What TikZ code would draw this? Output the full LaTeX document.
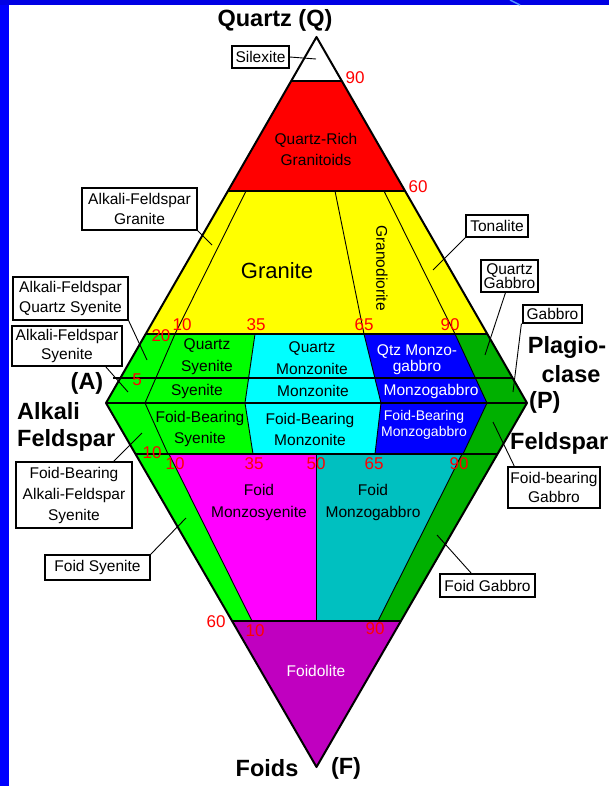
\documentclass[tikz,border=0pt]{standalone}
\usepackage{fontspec}
\setmainfont{Liberation Sans}
\usetikzlibrary{calc}
\definecolor{lgreen}{RGB}{0,255,0}
\definecolor{dgreen}{RGB}{0,176,0}
\definecolor{tealc}{RGB}{0,192,192}
\definecolor{purp}{RGB}{192,0,192}
\definecolor{cyanc}{RGB}{0,255,255}
\definecolor{magc}{RGB}{255,0,255}
\definecolor{yelc}{RGB}{255,255,0}
\definecolor{redc}{RGB}{255,0,0}
\definecolor{bluec}{RGB}{0,0,255}
\definecolor{slideblue}{RGB}{0,0,255}
\definecolor{topblue}{RGB}{0,0,228}
\definecolor{swoosh}{RGB}{80,150,255}
\begin{document}
\begin{tikzpicture}[x=1pt,y=-1pt,
  edge/.style={draw=black, line width=2pt, line join=round},
  hline/.style={draw=black, line width=1.6pt},
  divline/.style={draw=black, line width=0.9pt},
  leader/.style={draw=black, line width=0.9pt},
  lbl/.style={draw=black, line width=1.2pt, fill=white, align=center, inner sep=0pt, font=\fontsize{15.5}{19.5}\selectfont},
  intxt/.style={align=center, inner sep=0pt, font=\fontsize{15.5}{21}\selectfont},
  num/.style={text=redc, inner sep=0pt, font=\fontsize{17}{17}\selectfont},
  big/.style={inner sep=0pt, font=\fontsize{23.5}{26}\selectfont\bfseries}]
\useasboundingbox (0,0) rectangle (609,786);
% slide background
\fill[white] (0,0) rectangle (609,786);
\fill[slideblue] (0,0) rectangle (9,786);
\fill[topblue] (0,0) rectangle (609,5);
\draw[swoosh, line width=1.5pt] (510,0) -- (520,5);

% vertices
\coordinate (Q) at (316.5,37);
\coordinate (A) at (106,403);
\coordinate (P) at (527,403);
\coordinate (F) at (316.5,767);
% edge points on horizontal lines
\coordinate (l90) at (291.2,81);  \coordinate (r90) at (341.8,81);
\coordinate (l60) at (227.9,191); \coordinate (r60) at (405.1,191);
\coordinate (l20) at (145.7,334); \coordinate (r20) at (487.3,334);
\coordinate (l5)  at (120.4,378); \coordinate (r5)  at (512.6,378);
\coordinate (lf10) at (135.5,454); \coordinate (rf10) at (497.5,454);
\coordinate (lf60) at (232.1,621); \coordinate (rf60) at (400.9,621);
% divider points
\coordinate (y10a) at (246,191); \coordinate (y10b) at (175,334);
\coordinate (y65a) at (335,191); \coordinate (y65b) at (364,334);
\coordinate (y90a) at (384,191); \coordinate (y90b) at (455,334);
\coordinate (g10b) at (145,403);
\coordinate (g35a) at (255,334); \coordinate (g35b) at (245,403);
\coordinate (g65b) at (381,403);
\coordinate (g90b) at (487,403);
\coordinate (b10) at (168,454);
\coordinate (b35) at (253,454);
\coordinate (b65) at (375,454);
\coordinate (b90) at (463,454);
\coordinate (f10a) at (169,454); \coordinate (f10b) at (252,621);
\coordinate (f50a) at (316.5,454); \coordinate (f50b) at (316.5,621);
\coordinate (f90a) at (462,454); \coordinate (f90b) at (378,621);

% fills
\fill[white] (Q) -- (r90) -- (l90) -- cycle;
\fill[redc] (l90) -- (r90) -- (r60) -- (l60) -- cycle;
\fill[yelc] (l60) -- (r60) -- (r20) -- (l20) -- cycle;
\fill[lgreen] (l20) -- (g35a) -- (g35b) -- (A) -- cycle;
\fill[cyanc] (g35a) -- (y65b) -- (g65b) -- (g35b) -- cycle;
\fill[bluec] (y65b) -- (y90b) -- (g90b) -- (g65b) -- cycle;
\fill[dgreen] (y90b) -- (r20) -- (P) -- (g90b) -- cycle;
\fill[lgreen] (A) -- (g35b) -- (b35) -- (lf10) -- cycle;
\fill[cyanc] (g35b) -- (g65b) -- (b65) -- (b35) -- cycle;
\fill[bluec] (g65b) -- (g90b) -- (b90) -- (b65) -- cycle;
\fill[dgreen] (g90b) -- (P) -- (rf10) -- (b90) -- cycle;
\fill[lgreen] (lf10) -- (f10a) -- (f10b) -- (lf60) -- cycle;
\fill[magc] (f10a) -- (f50a) -- (f50b) -- (f10b) -- cycle;
\fill[tealc] (f50a) -- (f90a) -- (f90b) -- (f50b) -- cycle;
\fill[dgreen] (f90a) -- (rf10) -- (rf60) -- (f90b) -- cycle;
\fill[purp] (lf60) -- (rf60) -- (F) -- cycle;

% dividers
\draw[divline] (y10a) -- (y10b) -- (g10b) -- (b10);
\draw[divline] (f10a) -- (f10b);
\draw[divline] (y65a) -- (y65b) -- (g65b) -- (b65);
\draw[divline] (y90a) -- (y90b) -- (g90b) -- (b90);
\draw[divline] (g35a) -- (g35b) -- (b35);
\draw[divline] (f50a) -- (f50b);
\draw[divline] (f90a) -- (f90b);
% horizontal lines
\draw[hline] (l90) -- (r90);
\draw[hline] (l60) -- (r60);
\draw[hline] (l20) -- (r20);
\draw[hline] (113,378) -- (r5);
\draw[draw=black, line width=2.6pt] (A) -- (P);
\draw[hline] (lf10) -- (rf10);
\draw[hline] (lf60) -- (rf60);
% outline
\draw[edge] (Q) -- (P) -- (F) -- (A) -- cycle;

% interior labels
\node[intxt] (qrg) at (316,149) {Quartz-Rich\\Granitoids};
\node[intxt, font=\fontsize{22}{24}\selectfont] (gran) at (277,271) {Granite};
\node[intxt, rotate=-90] (grd) at (382,268) {Granodiorite};
\node[intxt, font=\fontsize{15.5}{22}\selectfont] (qsy) at (207,357) {Quartz\\Syenite};
\node[intxt] (sy) at (197,391) {Syenite};
\node[intxt] (fbsy) at (200,429) {Foid-Bearing\\Syenite};
\node[intxt, font=\fontsize{15.5}{22}\selectfont] (qmz) at (312,358) {Quartz\\Monzonite};
\node[intxt] (mz) at (313,391) {Monzonite};
\node[intxt] (fbmz) at (310,429) {Foid-Bearing\\Monzonite};
\node[intxt, text=white, font=\fontsize{15.5}{16}\selectfont] (qtzmg) at (417,360) {Qtz Monzo-\\gabbro};
\node[intxt, text=white] (mg) at (431,391) {Monzogabbro};
\node[intxt, text=white, font=\fontsize{14}{16}\selectfont] (fbmg) at (424,425) {Foid-Bearing\\Monzogabbro};
\node[intxt, font=\fontsize{15.5}{22}\selectfont] (fmzs) at (259,502) {Foid\\Monzosyenite};
\node[intxt, font=\fontsize{15.5}{22}\selectfont] (fmg) at (373,502) {Foid\\Monzogabbro};
\node[intxt, text=white] (fdl) at (316,671) {Foidolite};

% numbers
\node[num] (n90t) at (355,78) {90};
\node[num] (n60t) at (418,187) {60};
\node[num] (n20) at (161,336) {20};
\node[num] (n10u) at (182,325) {10};
\node[num] (n35u) at (256,325) {35};
\node[num] (n65u) at (364,325) {65};
\node[num] (n90u) at (450,325) {90};
\node[num] (n5) at (137,380) {5};
\node[num] (n10l) at (152,453) {10};
\node[num] (n10f) at (175,464) {10};
\node[num] (n35f) at (254,464) {35};
\node[num] (n50f) at (316,464) {50};
\node[num] (n65f) at (374,464) {65};
\node[num] (n90f) at (459,464) {90};
\node[num] (n60b) at (216,622) {60};
\node[num] (n10b) at (255,631) {10};
\node[num] (n90b) at (375,629) {90};

% corner labels
\node[big] (qlab) at (275,20) {Quartz (Q)};
\node[big] (alab) at (87,383) {(A)};
\node[big, anchor=west] (alk) at (17,411) {Alkali};
\node[big, anchor=west] (fel1) at (17,440) {Feldspar};
\node[big] (plag) at (567,347) {Plagio-};
\node[big] (clase) at (571,374) {clase};
\node[big, anchor=west] (plab) at (529,402) {(P)};
\node[big, anchor=west] (fel2) at (510,443) {Feldspar};
\node[big] (foids) at (267,768) {Foids};
\node[big] (flab) at (346,768) {(F)};

% label boxes
\node[lbl, minimum width=57, minimum height=22] (silex) at (260.5,57) {Silexite};
\node[lbl, minimum width=115, minimum height=42] (afg) at (139.5,209) {Alkali-Feldspar\\Granite};
\node[lbl, minimum width=115, minimum height=43] (afqs) at (70.5,298.5) {Alkali-Feldspar\\Quartz Syenite};
\node[lbl, minimum width=110, minimum height=40] (afs) at (67,346) {Alkali-Feldspar\\Syenite};
\node[lbl, minimum width=116, minimum height=66, font=\fontsize{15.5}{21}\selectfont] (fbafs) at (74,495) {Foid-Bearing\\Alkali-Feldspar\\Syenite};
\node[lbl, minimum width=105, minimum height=25] (fsy) at (97.5,567.5) {Foid Syenite};
\node[lbl, minimum width=62, minimum height=22] (tonal) at (497,226) {Tonalite};
\node[lbl, minimum width=57, minimum height=32, font=\fontsize{15.5}{14.5}\selectfont] (qgab) at (509.5,276) {Quartz\\Gabbro};
\node[lbl, minimum width=59, minimum height=18] (gab) at (552.5,314) {Gabbro};
\node[lbl, minimum width=92, minimum height=41] (fbgab) at (554,487.5) {Foid-bearing\\Gabbro};
\node[lbl, minimum width=95, minimum height=23] (fgab) at (487.5,585.5) {Foid Gabbro};

% leader end points
\coordinate (e-silex) at (316,59);
\coordinate (e-afg) at (212,245);
\coordinate (e-afqs) at (147,360);
\coordinate (e-afs) at (128,392);
\coordinate (e-fbafs) at (142,433);
\coordinate (e-fsy) at (186,518);
\coordinate (e-tonal) at (433,270);
\coordinate (e-qgab) at (485,355);
\coordinate (e-gab) at (513,392);
\coordinate (e-fbgab) at (493,422);
\coordinate (e-fgab) at (437,535);

% leaders
\draw[leader] (silex.east) -- (e-silex);
\draw[leader] (afg.south east) -- (e-afg);
\draw[leader] (afqs.south east) -- (e-afqs);
\draw[leader] ($(afs.south east)+(-17,0)$) -- (e-afs);
\draw[leader] ($(fbafs.north east)+(-19,0)$) -- (e-fbafs);
\draw[leader] (fsy.north east) -- (e-fsy);
\draw[leader] (tonal.south west) -- (e-tonal);
\draw[leader] ($(qgab.south)+(-4,0)$) -- (e-qgab);
\draw[leader] ($(gab.south west)+(-1,0)$) -- (e-gab);
\draw[leader] ($(fbgab.north west)+(7,0)$) -- (e-fbgab);
\draw[leader] ($(fgab.north west)+(32,0)$) -- (e-fgab);
\end{tikzpicture}
\end{document}
